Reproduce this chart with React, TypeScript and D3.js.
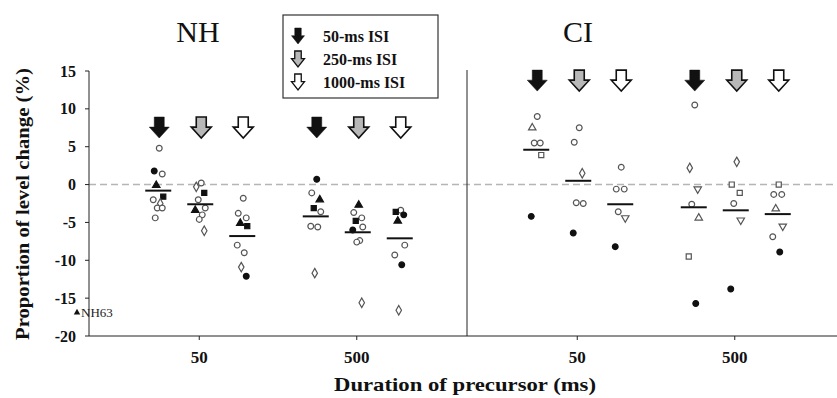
import React from "react";
import * as d3 from "d3";

const panels = ["NH", "CI"];
const durations = ["50", "500"];
const isis = ["50", "250", "1000"];
const yTicks = [15, 10, 5, 0, -5, -10, -15, -20];
const legendLabels = ["50-ms ISI", "250-ms ISI", "1000-ms ISI"];

// shape codes: o open circle, c filled circle, t filled triangle, s filled square,
// d open diamond, q open square, a open triangle, v open triangle-down
const nh_50_50: [number, string][] = [[4.8, "o"], [1.8, "c"], [1.4, "o"], [-0.1, "t"], [-1.6, "s"], [-2.0, "o"], [-2.5, "d"], [-3.1, "o"], [-3.1, "o"], [-4.4, "o"]];
const nh_50_250: [number, string][] = [[0.2, "o"], [-0.3, "d"], [-1.1, "s"], [-2.0, "o"], [-3.1, "o"], [-3.4, "t"], [-4.0, "o"], [-4.6, "o"], [-6.1, "d"]];
const nh_50_1000: [number, string][] = [[-1.8, "o"], [-3.8, "o"], [-4.4, "o"], [-5.1, "t"], [-5.5, "s"], [-8.0, "o"], [-9.0, "o"], [-10.9, "d"], [-12.1, "c"]];
const nh_500_50: [number, string][] = [[0.7, "c"], [-1.1, "o"], [-2.0, "t"], [-3.1, "s"], [-3.6, "o"], [-5.5, "o"], [-5.6, "o"], [-11.7, "d"]];
const nh_500_250: [number, string][] = [[-2.7, "t"], [-3.7, "o"], [-4.4, "o"], [-4.8, "s"], [-5.6, "o"], [-6.0, "c"], [-7.4, "o"], [-7.6, "o"], [-15.6, "d"]];
const nh_500_1000: [number, string][] = [[-3.4, "o"], [-3.6, "s"], [-4.0, "c"], [-4.8, "t"], [-8.0, "o"], [-9.3, "o"], [-10.6, "c"], [-16.6, "d"]];
const ci_50_50: [number, string][] = [[9.0, "o"], [7.5, "a"], [5.5, "o"], [5.5, "o"], [3.9, "q"], [-4.2, "c"]];
const ci_50_250: [number, string][] = [[7.5, "o"], [5.6, "o"], [1.5, "d"], [-2.4, "o"], [-2.5, "o"], [-6.4, "c"]];
const ci_50_1000: [number, string][] = [[2.3, "o"], [-0.6, "o"], [-0.6, "o"], [-3.6, "o"], [-4.4, "v"], [-8.2, "c"]];
const ci_500_50: [number, string][] = [[10.5, "o"], [2.2, "d"], [-0.6, "v"], [-2.6, "o"], [-4.4, "a"], [-9.5, "q"], [-15.7, "c"]];
const ci_500_250: [number, string][] = [[3.0, "d"], [0, "q"], [-1.1, "q"], [-2.5, "o"], [-4.7, "v"], [-13.8, "c"]];
const ci_500_1000: [number, string][] = [[0, "q"], [-1.3, "o"], [-1.3, "o"], [-3.2, "a"], [-5.5, "v"], [-6.9, "o"], [-8.9, "c"]];

const nhMeans = [-0.8, -2.6, -6.8, -4.2, -6.3, -7.1];
const ciMeans = [4.6, 0.5, -2.6, -3.0, -3.4, -3.9];
const arrowLevel = { NH: 7.6, CI: 13.8 } as Record<string, number>;

const groupData: Record<string, [number, string][][]> = {
  NH: [nh_50_50, nh_50_250, nh_50_1000, nh_500_50, nh_500_250, nh_500_1000],
  CI: [ci_50_50, ci_50_250, ci_50_1000, ci_500_50, ci_500_250, ci_500_1000],
};
const groupMeans: Record<string, number[]> = { NH: nhMeans, CI: ciMeans };

const jitter = [1, -4, 4, -2, 5, -5, 2, -1, 4, -3];

const W = 837, H = 398;
const AX_L = 89, AX_B = 336;

const y = d3.scaleLinear().domain([-20, 15]).range([AX_B, 71]);
const xPanel = d3.scaleBand().domain(panels).range([AX_L, AX_L + 756]).padding(0);
const xDur = d3.scalePoint().domain(durations).range([2, 380]).padding(0.7);
const xIsi = d3.scalePoint().domain(isis).range([-42, 42]);

const serif = "'Liberation Serif', 'Times New Roman', serif";

function arrowPath(cx: number, top: number, w: number, h: number) {
  const sw = w * 0.5;
  const sh = h * 0.48;
  return `M${cx - sw / 2},${top} L${cx + sw / 2},${top} L${cx + sw / 2},${top + sh} L${cx + w / 2},${top + sh} L${cx},${top + h} L${cx - w / 2},${top + sh} L${cx - sw / 2},${top + sh} Z`;
}
const arrowFill = ["#111", "#b8b8b8", "#fff"];

function Marker({ x, yv, shape }: { x: number; yv: number; shape: string }) {
  const filled = shape === "c" || shape === "t" || shape === "s";
  let type: d3.SymbolType = d3.symbolCircle;
  let size = 26;
  let rot = 0;
  if (shape === "t" || shape === "a") { type = d3.symbolTriangle; size = 24; }
  if (shape === "v") { type = d3.symbolTriangle; size = 24; rot = 180; }
  if (shape === "s" || shape === "q") { type = d3.symbolSquare; size = 26; }
  if (shape === "d") { type = d3.symbolDiamond; size = 26; }
  const p = d3.symbol().type(type).size(size)() as string;
  return (
    <path
      d={p}
      transform={`translate(${x},${y(yv)}) rotate(${rot})`}
      fill={filled ? "#111" : "#fff"}
      stroke={filled ? "#111" : "#555"}
      strokeWidth={1.2}
    />
  );
}

export default function App() {
  return (
    <svg width={W} height={H} style={{ position: "absolute", left: 0, top: 0, background: "#fff" }} fontFamily={serif}>
      {/* zero dashed line */}
      <line x1={AX_L} x2={W} y1={y(0)} y2={y(0)} stroke="#b5b5b5" strokeWidth={1.5} strokeDasharray="7,4" />
      {/* axes */}
      <line x1={AX_L} x2={AX_L} y1={y(15)} y2={AX_B} stroke="#222" strokeWidth={1} />
      <line x1={AX_L} x2={W} y1={AX_B} y2={AX_B} stroke="#222" strokeWidth={1} />
      <line x1={xPanel("CI")!} x2={xPanel("CI")!} y1={70} y2={AX_B} stroke="#222" strokeWidth={1} />
      {yTicks.map((t) => (
        <g key={t}>
          <line x1={AX_L - 4} x2={AX_L} y1={y(t)} y2={y(t)} stroke="#222" />
          <text x={76} y={y(t)} dy="0.35em" textAnchor="end" fontSize={16} fontWeight="bold" fill="#111">{t}</text>
        </g>
      ))}
      {panels.map((pn) =>
        durations.map((d) => {
          const cx = xPanel(pn)! + xDur(d)!;
          return (
            <g key={pn + d}>
              <line x1={cx - 2} x2={cx - 2} y1={AX_B} y2={AX_B + 4} stroke="#222" />
              <text x={cx - 2} y={357} dy="0.35em" textAnchor="middle" fontSize={17} fontWeight="bold" fill="#111">{d}</text>
            </g>
          );
        })
      )}
      {/* panel titles */}
      <text x={198} y={42} textAnchor="middle" fontSize={30} fill="#111">NH</text>
      <text x={578} y={42} textAnchor="middle" fontSize={30} fill="#111">CI</text>
      {/* axis titles */}
      <text transform={`translate(29,204) rotate(-90)`} textAnchor="middle" fontSize={19} fontWeight="bold" fill="#111" textLength={272} lengthAdjust="spacingAndGlyphs">Proportion of level change (%)</text>
      <text x={465} y={391} textAnchor="middle" fontSize={19} fontWeight="bold" fill="#111" textLength={262} lengthAdjust="spacingAndGlyphs">Duration of precursor (ms)</text>
      {/* arrows, points, means */}
      {panels.map((pn) =>
        durations.map((d, di) =>
          isis.map((isi, ii) => {
            const cx = xPanel(pn)! + xDur(d)! + xIsi(isi)!;
            const gi = di * 3 + ii;
            const pts = groupData[pn][gi];
            const m = groupMeans[pn][gi];
            const aTop = y(arrowLevel[pn]) - 10;
            return (
              <g key={pn + d + isi}>
                <path d={arrowPath(cx, aTop, 20, 21)} fill={arrowFill[ii]} stroke="#111" strokeWidth={ii === 0 ? 0.5 : 1.6} strokeLinejoin="miter" />
                {pts.map(([v, s], k) => (
                  <Marker key={k} x={cx - 1 + jitter[k % jitter.length]} yv={v} shape={s} />
                ))}
                <line x1={cx - 14} x2={cx + 12} y1={y(m)} y2={y(m)} stroke="#111" strokeWidth={2} />
              </g>
            );
          })
        )
      )}
      {/* NH63 annotation */}
      <path d={d3.symbol().type(d3.symbolTriangle).size(18)() as string} transform={`translate(77,${y(-16.9)})`} fill="#111" />
      <text x={81} y={y(-16.9)} dy="0.35em" fontSize={13} fill="#222">NH63</text>
      {/* legend */}
      <rect x={283} y={15} width={155} height={83} fill="#fff" stroke="#333" strokeWidth={1.2} />
      {legendLabels.map((lb, i) => {
        const cy = 36 + i * 23;
        return (
          <g key={lb}>
            <path d={arrowPath(298, cy - 8, 13, 16)} fill={arrowFill[i]} stroke="#111" strokeWidth={i === 0 ? 0.5 : 1.3} />
            <text x={323} y={cy} dy="0.35em" fontSize={16} fontWeight="bold" fill="#111">{lb}</text>
          </g>
        );
      })}
    </svg>
  );
}
